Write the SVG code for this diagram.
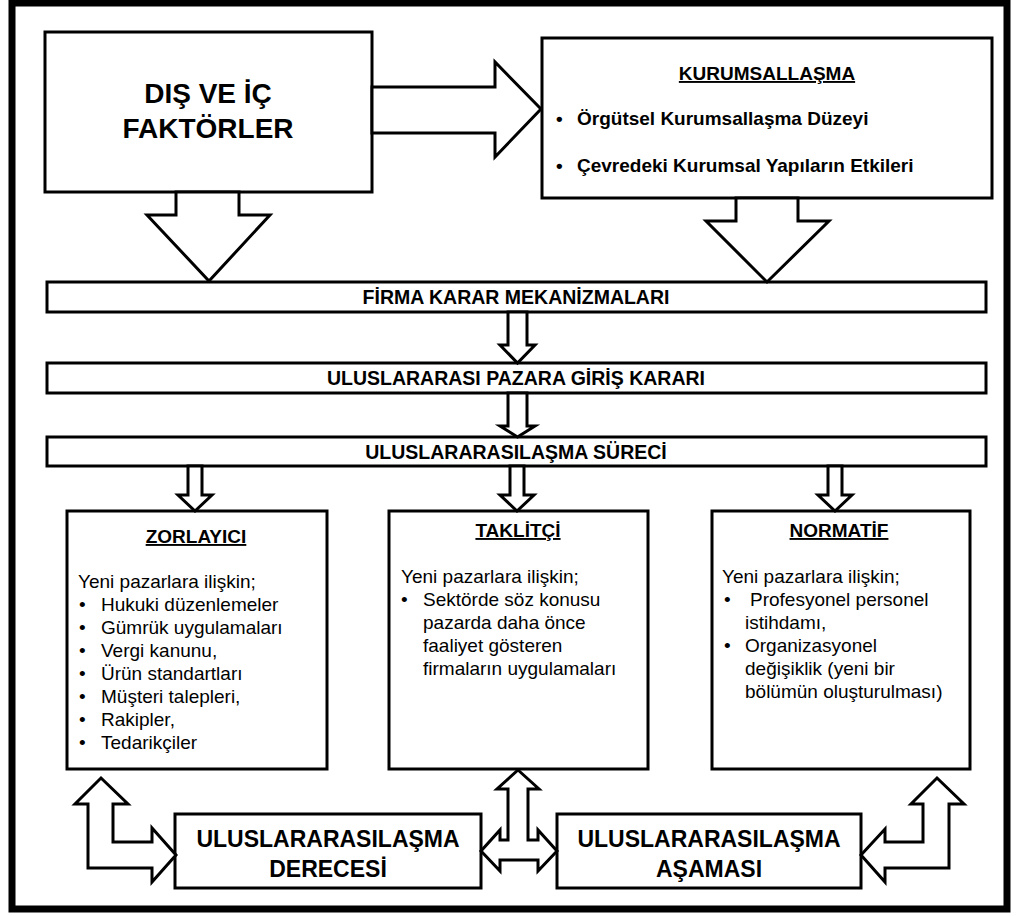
<svg xmlns="http://www.w3.org/2000/svg" width="1019" height="916" viewBox="0 0 1019 916">
  <style>
    .frame { fill: #fff; stroke: #000; stroke-width: 7; }
    .box { fill: #fff; stroke: #000; stroke-width: 3; }
    .arrow { fill: #fff; stroke: #000; stroke-width: 3; stroke-linejoin: miter; }
    text { font-family: "Liberation Sans", Arial, sans-serif; fill: #000; }
    .big { font-size: 28px; font-weight: bold; text-anchor: middle; }
    .head { font-size: 19px; font-weight: bold; text-anchor: middle; }
    .ul { text-decoration: underline; }
    .bold19 { font-size: 19px; font-weight: bold; }
    .body { font-size: 19px; }
    .bar { font-size: 19.5px; font-weight: bold; text-anchor: middle; }
    .stage { font-size: 23px; font-weight: bold; text-anchor: middle; }
  </style>

  <rect class="frame" x="12" y="3" width="995" height="906"/>

  <!-- external and internal factors -->
  <g id="node-factors">
    <rect class="box" x="45" y="32" width="327" height="160"/>
    <text class="big" x="208" y="103">DIŞ VE İÇ</text>
    <text class="big" x="208" y="138">FAKTÖRLER</text>
  </g>

  <!-- institutionalisation -->
  <g id="node-institutionalisation">
    <rect class="box" x="542" y="38" width="450" height="160"/>
    <text class="head ul" x="767" y="80">KURUMSALLAŞMA</text>
    <text class="bold19" x="556" y="125">•</text>
    <text class="bold19" x="577" y="125">Örgütsel Kurumsallaşma Düzeyi</text>
    <text class="bold19" x="556" y="172">•</text>
    <text class="bold19" x="577" y="172">Çevredeki Kurumsal Yapıların Etkileri</text>
  </g>

  <!-- process bars -->
  <g id="node-decision-mechanisms">
    <rect class="box" x="47" y="282" width="939" height="30"/>
    <text class="bar" x="516" y="304">FİRMA KARAR MEKANİZMALARI</text>
  </g>
  <g id="node-entry-decision">
    <rect class="box" x="47" y="363" width="939" height="30"/>
    <text class="bar" x="516" y="385">ULUSLARARASI PAZARA GİRİŞ KARARI</text>
  </g>
  <g id="node-process">
    <rect class="box" x="47" y="437" width="939" height="29"/>
    <text class="bar" x="516" y="459">ULUSLARARASILAŞMA SÜRECİ</text>
  </g>

  <!-- coercive -->
  <g id="node-coercive">
    <rect class="box" x="67" y="511" width="260" height="258"/>
    <text class="head ul" x="196" y="543">ZORLAYICI</text>
    <text class="body" x="78" y="588">Yeni pazarlara ilişkin;</text>
    <g class="body">
      <text x="79" y="611">•</text><text x="101" y="611">Hukuki düzenlemeler</text>
      <text x="79" y="634">•</text><text x="101" y="634">Gümrük uygulamaları</text>
      <text x="79" y="657">•</text><text x="101" y="657">Vergi kanunu,</text>
      <text x="79" y="680">•</text><text x="101" y="680">Ürün standartları</text>
      <text x="79" y="703">•</text><text x="101" y="703">Müşteri talepleri,</text>
      <text x="79" y="726">•</text><text x="101" y="726">Rakipler,</text>
      <text x="79" y="749">•</text><text x="101" y="749">Tedarikçiler</text>
    </g>
  </g>

  <!-- mimetic -->
  <g id="node-mimetic">
    <rect class="box" x="389" y="511" width="259" height="258"/>
    <text class="head ul" x="518" y="537">TAKLİTÇİ</text>
    <text class="body" x="401" y="583">Yeni pazarlara ilişkin;</text>
    <g class="body">
      <text x="401" y="606">•</text><text x="423" y="606">Sektörde söz konusu</text>
      <text x="423" y="629">pazarda daha önce</text>
      <text x="423" y="652">faaliyet gösteren</text>
      <text x="423" y="675">firmaların uygulamaları</text>
    </g>
  </g>

  <!-- normative -->
  <g id="node-normative">
    <rect class="box" x="712" y="511" width="258" height="258"/>
    <text class="head ul" x="839" y="537">NORMATİF</text>
    <text class="body" x="722" y="583">Yeni pazarlara ilişkin;</text>
    <g class="body">
      <text x="724" y="606">•</text><text x="750" y="606">Profesyonel personel</text>
      <text x="745" y="629">istihdamı,</text>
      <text x="724" y="652">•</text><text x="745" y="652">Organizasyonel</text>
      <text x="745" y="675">değişiklik (yeni bir</text>
      <text x="745" y="698">bölümün oluşturulması)</text>
    </g>
  </g>

  <!-- degree and stage -->
  <g id="node-degree">
    <rect class="box" x="175" y="814" width="306" height="74"/>
    <text class="stage" x="328" y="847">ULUSLARARASILAŞMA</text>
    <text class="stage" x="328" y="877">DERECESİ</text>
  </g>
  <g id="node-stage">
    <rect class="box" x="557" y="814" width="304" height="74"/>
    <text class="stage" x="709" y="847">ULUSLARARASILAŞMA</text>
    <text class="stage" x="709" y="877">AŞAMASI</text>
  </g>

  <!-- block arrows -->
  <g id="connectors">
    <polygon class="arrow" points="372,87 495,87 495,62 541,109 495,157 495,133 372,133"/>
    <polygon class="arrow" points="176,192 239,192 239,215 270,215 209,281 147,215 176,215"/>
    <polygon class="arrow" points="736,198 798,198 798,221 829,221 767,282 706,221 736,221"/>

    <polygon class="arrow" points="508,312 527,312 527,345 535,345 517.5,363 500,345 508,345"/>
    <polygon class="arrow" points="508,393 527,393 527,426 535,426 517.5,437 500,426 508,426"/>

    <polygon class="arrow" points="188,466 202,466 202,495 212,495 195,511 178,495 188,495"/>
    <polygon class="arrow" points="510,466 524,466 524,495 534,495 517,511 500,495 510,495"/>
    <polygon class="arrow" points="828,466 842,466 842,495 852,495 835,511 818,495 828,495"/>

    <polygon class="arrow" points="101,778 128,804 113,804 113,842 152,842 152,828 176,855 152,882 152,868 88,868 88,804 75,804"/>
    <polygon class="arrow" points="518,770 539,789 528,789 528,840 538,840 538,830 557,851 538,871 538,860 500,860 500,871 481,851 500,830 500,840 508,840 508,789 497,789"/>
    <polygon class="arrow" points="937,778 964,804 949,804 949,868 885,868 885,882 861,855 885,829 885,842 923,842 923,804 911,804"/>
  </g>
</svg>
